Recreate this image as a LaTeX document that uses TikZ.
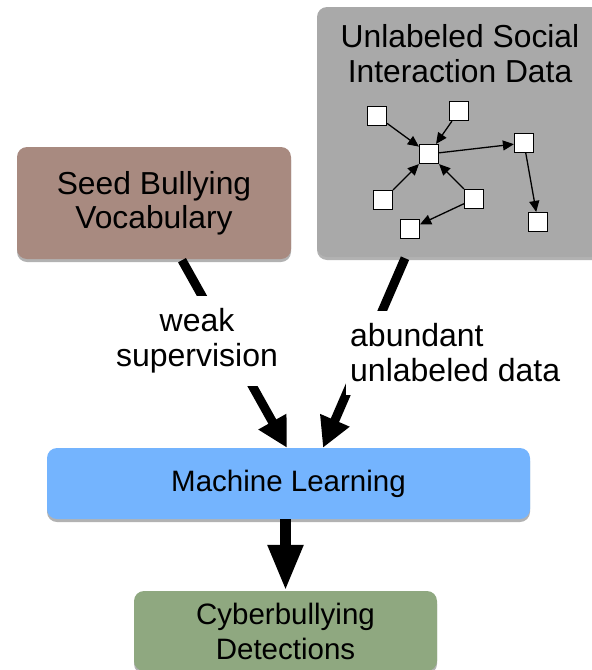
\documentclass[tikz,border=0pt]{standalone}
\usepackage{fontspec}
\setmainfont{Liberation Sans}
\usetikzlibrary{arrows.meta,shadows,calc}
\definecolor{seedc}{HTML}{A88A80}
\definecolor{grayc}{HTML}{A9A9A9}
\definecolor{mlc}{HTML}{74B4FE}
\definecolor{cybc}{HTML}{8FA880}
\tikzset{
  bigbox/.style={rounded corners=10pt, draw=none, align=center,
    drop shadow={shadow xshift=0pt, shadow yshift=-3pt, opacity=0.3, fill=black},
    font=\fontsize{29.5}{35}\selectfont},
  lbl/.style={fill=white, font=\fontsize{32}{35}\selectfont, inner ysep=13pt, inner xsep=4pt},
  bigarrow/.style={line width=9pt, -{Triangle[width=30pt,length=30pt]}},
  sq/.style={draw=black, fill=white, line width=1.2pt, minimum size=19pt, inner sep=0pt},
  smallarrow/.style={line width=1.3pt, -{Triangle[width=10pt,length=11pt]}}
}
\begin{document}
\begin{tikzpicture}[x=1pt,y=-1pt]
\useasboundingbox (0,0) rectangle (592,670);
\begin{scope}
\clip (0,0) rectangle (592,670);
\node[bigbox, fill=seedc, minimum width=274pt, minimum height=112pt, font=\fontsize{31.8}{34}\selectfont] (seed) at (154,203) {Seed Bullying\\Vocabulary};
\node[bigbox, fill=grayc, minimum width=285pt, minimum height=250pt] (unl) at (459.5,132) {};
\node[font=\fontsize{31.8}{35}\selectfont, align=center] (title) at (460,54) {Unlabeled Social\\Interaction Data};
\node[bigbox, fill=mlc, minimum width=483pt, minimum height=71pt] (ml) at (288.5,483.5) {Machine Learning};
\node[bigbox, fill=cybc, minimum width=303pt, minimum height=80pt] (cyb) at (285.5,631) {Cyberbullying\\Detections};
\end{scope}
% small graph
\node[sq] (a) at (377,116) {};
\node[sq] (b) at (459,111) {};
\node[sq] (c) at (429,154) {};
\node[sq] (d) at (524,143) {};
\node[sq] (e) at (383,200) {};
\node[sq] (f) at (474,199) {};
\node[sq] (g) at (410,229) {};
\node[sq] (h) at (538,222) {};
\draw[smallarrow] (a) -- (c);
\draw[smallarrow] (b) -- (c);
\draw[smallarrow] (c) -- (d);
\draw[smallarrow] (e) -- (c);
\draw[smallarrow] (f) -- (c);
\draw[smallarrow] (f) -- (g);
\draw[smallarrow] (d) -- (h);
% big arrows
\draw[bigarrow] ([xshift=28pt,yshift=-1pt]seed.south) -- ([xshift=-1.5pt]ml.north);
\draw[bigarrow] ([xshift=-54.5pt,yshift=-1pt]unl.south) -- ([xshift=34.5pt]ml.north);
\draw[line width=11pt, -{Triangle[width=33pt,length=46pt]}] (ml.south -| cyb.north) -- (cyb.north);
% labels
\node[lbl, align=center] (ws) at (197,341) {weak\\supervision};
\node[lbl, align=left, anchor=west] (au) at (346,353) {abundant\\unlabeled data};
\end{tikzpicture}
\end{document}
